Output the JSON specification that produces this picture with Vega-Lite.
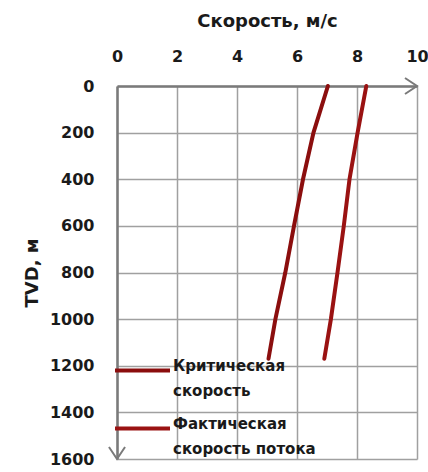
{
  "$schema": "https://vega.github.io/schema/vega-lite/v6.json",
  "width": 300,
  "height": 373,
  "autosize": {"type": "none"},
  "padding": {"left": 117, "top": 86, "right": 11, "bottom": 13},
  "background": "white",
  "config": {
    "view": {"stroke": null},
    "font": "DejaVu Sans",
    "style": {"guide-label": {"lineHeight": 25}}
  },
  "datasets": {
    "lines": [
      {"series": "Критическая скорость", "tvd": 0, "v": 7.03},
      {"series": "Критическая скорость", "tvd": 200, "v": 6.55},
      {"series": "Критическая скорость", "tvd": 400, "v": 6.2},
      {"series": "Критическая скорость", "tvd": 600, "v": 5.9},
      {"series": "Критическая скорость", "tvd": 800, "v": 5.61},
      {"series": "Критическая скорость", "tvd": 1000, "v": 5.28},
      {"series": "Критическая скорость", "tvd": 1170, "v": 5.05},
      {"series": "Фактическая скорость потока", "tvd": 0, "v": 8.31},
      {"series": "Фактическая скорость потока", "tvd": 200, "v": 8.02},
      {"series": "Фактическая скорость потока", "tvd": 400, "v": 7.75},
      {"series": "Фактическая скорость потока", "tvd": 600, "v": 7.56},
      {"series": "Фактическая скорость потока", "tvd": 800, "v": 7.35},
      {"series": "Фактическая скорость потока", "tvd": 1000, "v": 7.13},
      {"series": "Фактическая скорость потока", "tvd": 1170, "v": 6.91}
    ],
    "xEnd": [{"v": 10, "tvd": 0}],
    "yEnd": [{"v": 0, "tvd": 1600}]
  },
  "layer": [
    {
      "data": {"name": "lines"},
      "mark": {"type": "line", "strokeWidth": 4, "strokeCap": "round"},
      "encoding": {
        "x": {
          "field": "v", "type": "quantitative",
          "scale": {"domain": [0, 10], "nice": false, "zero": false},
          "axis": {
            "orient": "top", "values": [0, 2, 4, 6, 8, 10], "format": "d",
            "title": "Скорость, м/с",
            "titleFont": "DejaVu Sans", "titleFontSize": 18, "titleFontWeight": "bold", "titleColor": "#1a1a1a",
            "titlePadding": 18,
            "labelFont": "DejaVu Sans", "labelFontSize": 16, "labelFontWeight": "bold", "labelColor": "#1a1a1a",
            "labelPadding": 22, "ticks": false, "tickSize": 0,
            "domainColor": "#7a7a7a", "domainWidth": 2.5,
            "grid": true, "gridColor": "#a0a0a0", "gridWidth": 1.5,
            "labelFlush": false
          }
        },
        "y": {
          "field": "tvd", "type": "quantitative",
          "scale": {"domain": [0, 1600], "reverse": true, "nice": false, "zero": false},
          "axis": {
            "orient": "left", "values": [0, 200, 400, 600, 800, 1000, 1200, 1400, 1600], "format": "d",
            "title": "TVD, м",
            "titleFont": "DejaVu Sans", "titleFontSize": 18, "titleFontWeight": "bold", "titleColor": "#1a1a1a",
            "titlePadding": 8,
            "labelFont": "DejaVu Sans", "labelFontSize": 16, "labelFontWeight": "bold", "labelColor": "#1a1a1a",
            "labelPadding": 23, "ticks": false, "tickSize": 0,
            "domainColor": "#7a7a7a", "domainWidth": 2.5,
            "grid": true, "gridColor": "#a0a0a0", "gridWidth": 1.5,
            "labelFlush": false
          }
        },
        "color": {
          "field": "series", "type": "nominal",
          "scale": {"domain": ["Критическая скорость", "Фактическая скорость потока"], "range": ["#8b0e0e", "#9a1212"]},
          "legend": {
            "orient": "none", "legendX": -4, "legendY": 255,
            "title": null, "padding": 0,
            "symbolType": "stroke", "symbolSize": 3025, "symbolStrokeWidth": 4,
            "labelFont": "DejaVu Sans", "labelFontSize": 15, "labelFontWeight": "bold", "labelColor": "#1a1a1a",
            "labelOffset": 1, "labelLimit": 300, "labelBaseline": "alphabetic",
            "rowPadding": 0,
            "labelExpr": "datum.label == 'Критическая скорость' ? ['Критическая', 'скорость'] : ['Фактическая', 'скорость потока']"
          }
        },
        "order": {"field": "tvd", "type": "quantitative"}
      }
    },
    {
      "data": {"name": "xEnd"},
      "mark": {"type": "point", "shape": "M-1,-0.67L0,0L-1,0.67", "filled": false, "stroke": "#7a7a7a", "strokeWidth": 2, "size": 576, "opacity": 1},
      "encoding": {
        "x": {"field": "v", "type": "quantitative"},
        "y": {"field": "tvd", "type": "quantitative"}
      }
    },
    {
      "data": {"name": "yEnd"},
      "mark": {"type": "point", "shape": "M-0.67,-1L0,0L0.67,-1", "filled": false, "stroke": "#7a7a7a", "strokeWidth": 2, "size": 576, "opacity": 1},
      "encoding": {
        "x": {"field": "v", "type": "quantitative"},
        "y": {"field": "tvd", "type": "quantitative"}
      }
    }
  ]
}
